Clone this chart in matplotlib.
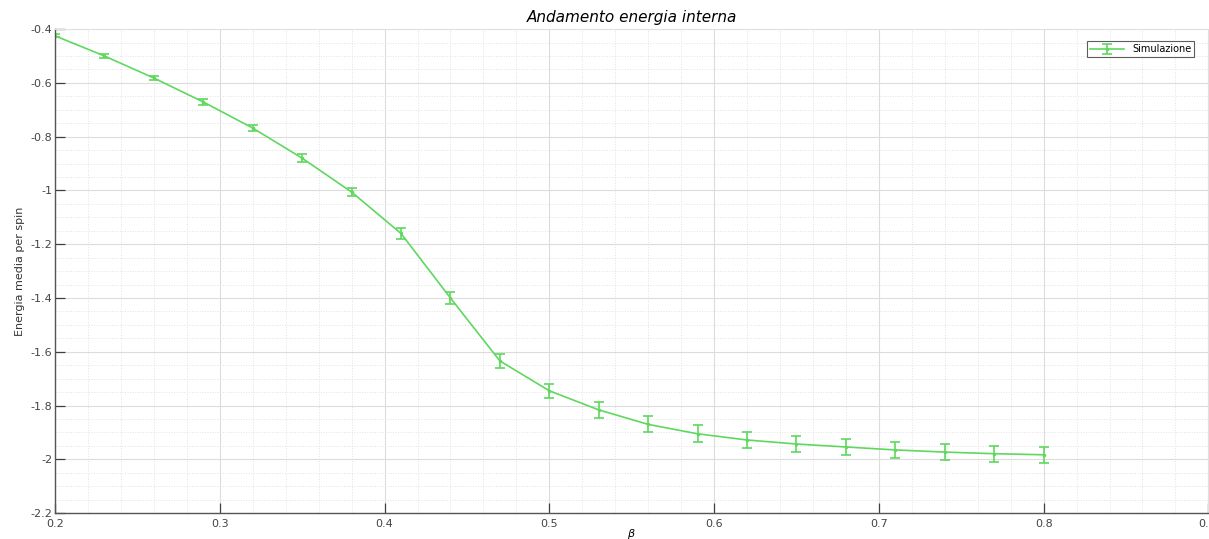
import matplotlib
matplotlib.use("Agg")
import matplotlib.pyplot as plt
from matplotlib.ticker import MultipleLocator

beta = [0.20, 0.23, 0.26, 0.29, 0.32, 0.35, 0.38, 0.41, 0.44, 0.47, 0.50,
        0.53, 0.56, 0.59, 0.62, 0.65, 0.68, 0.71, 0.74, 0.77, 0.80]
energy = [-0.425, -0.500, -0.582, -0.671, -0.768, -0.880, -1.006, -1.160, -1.400,
          -1.634, -1.745, -1.816, -1.870, -1.905, -1.928, -1.943, -1.954,
          -1.965, -1.973, -1.979, -1.983]
errors = [0.005, 0.006, 0.008, 0.010, 0.012, 0.014, 0.016, 0.019, 0.023,
          0.026, 0.027, 0.029, 0.030, 0.031, 0.031, 0.031, 0.031,
          0.031, 0.030, 0.030, 0.029]
x_ticks = [0.2, 0.3, 0.4, 0.5, 0.6, 0.7, 0.8, 0.9]
x_ticklabels = ['0.2', '0.3', '0.4', '0.5', '0.6', '0.7', '0.8', '0.']
y_ticks = [-2.2, -2.0, -1.8, -1.6, -1.4, -1.2, -1.0, -0.8, -0.6, -0.4]
y_ticklabels = ['-2.2', '-2', '-1.8', '-1.6', '-1.4', '-1.2', '-1', '-0.8', '-0.6', '-0.4']

fig = plt.figure(figsize=(12.09, 5.39), dpi=100)
ax = fig.add_axes([0.0455, 0.048, 0.954, 0.898])

ax.errorbar(beta, energy, yerr=errors, color='#5fd85f', lw=1.2, elinewidth=1.2,
            capsize=3.5, capthick=1.2, marker='.', markersize=3, label='Simulazione')

ax.set_xlim(0.2, 0.9)
ax.set_ylim(-2.2, -0.4)
ax.xaxis.set_minor_locator(MultipleLocator(0.02))
ax.yaxis.set_minor_locator(MultipleLocator(0.05))
ax.set_xticks(x_ticks)
ax.set_xticklabels(x_ticklabels)
ax.set_yticks(y_ticks)
ax.set_yticklabels(y_ticklabels)
ax.get_xticklabels()[-1].set_horizontalalignment('right')

ax.grid(which='major', color='#dcdcdc', lw=0.8)
ax.grid(which='minor', color='#e2e2e2', lw=0.7, linestyle=':')
ax.set_axisbelow(True)

ax.tick_params(which='major', direction='in', length=7, width=0.9, color='#404040',
               labelsize=8, labelcolor='#444444', top=False, right=False)
ax.tick_params(which='minor', length=0)
ax.tick_params(axis='x', pad=4)
ax.tick_params(axis='y', pad=2)
for side in ['top', 'right']:
    ax.spines[side].set_color('#e0e0e0')
for side in ['left', 'bottom']:
    ax.spines[side].set_color('#555555')
    ax.spines[side].set_linewidth(1.0)

ax.set_title('Andamento energia interna', fontsize=11, style='italic', pad=5)
ax.set_xlabel(r'$\beta$', fontsize=8, labelpad=-1)
ax.set_ylabel('Energia media per spin', fontsize=8, labelpad=4, color='#333333')

leg = ax.legend(loc='upper right', fontsize=7, frameon=True, fancybox=False,
                edgecolor='#333333', borderpad=0.3, handlelength=3.5,
                bbox_to_anchor=(0.992, 0.985))
leg.get_frame().set_linewidth(0.8)

fig.savefig('out.png', dpi=100)
